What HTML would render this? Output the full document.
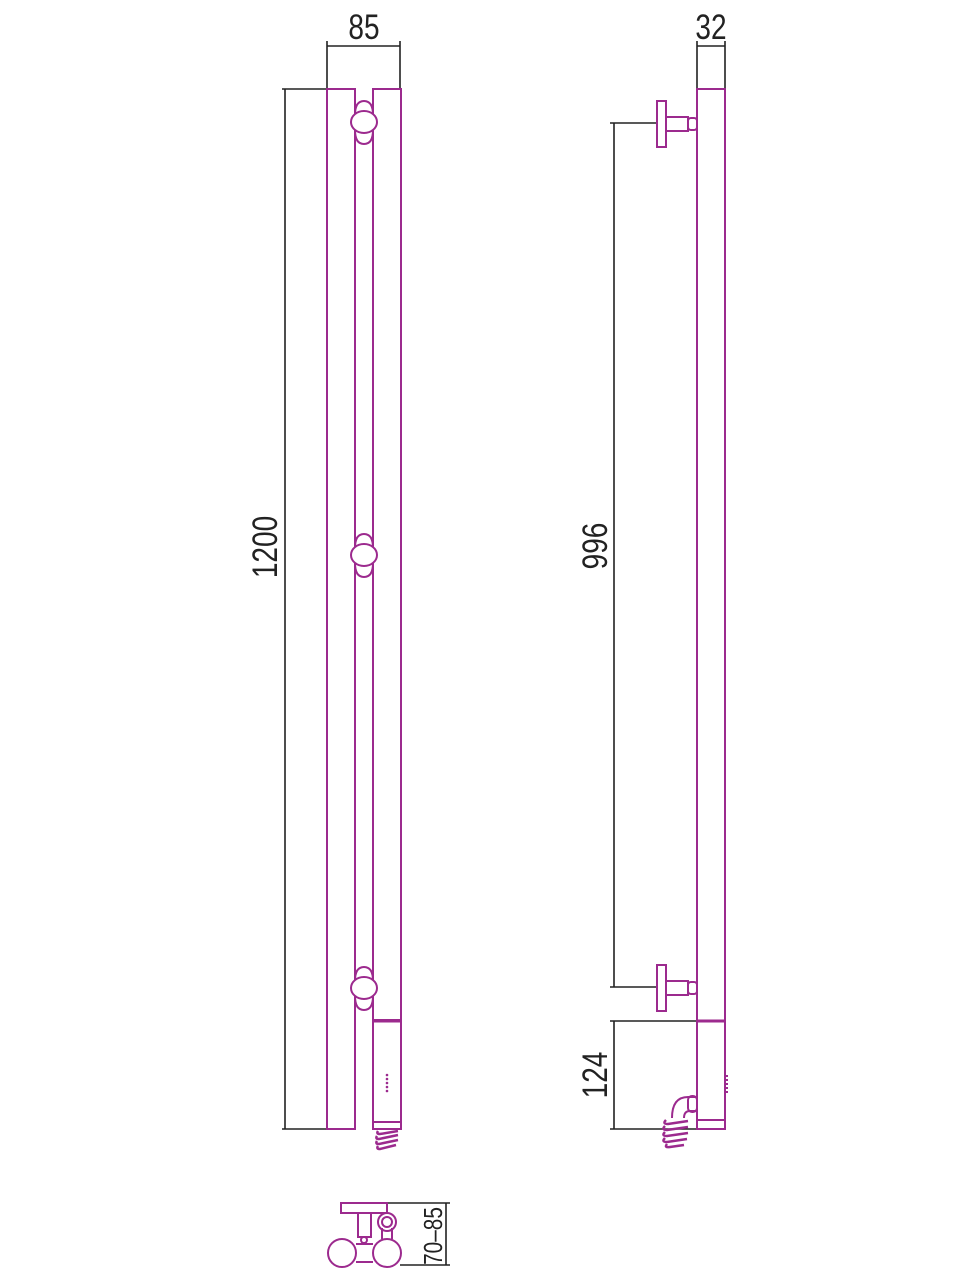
<!DOCTYPE html>
<html><head><meta charset="utf-8"><style>
html,body{margin:0;padding:0;background:#fff;}
svg{display:block}
text{font-family:"Liberation Sans",sans-serif;fill:#222;}
</style></head><body>
<svg width="979" height="1280" viewBox="0 0 979 1280" xmlns="http://www.w3.org/2000/svg">
<g stroke="#222" stroke-width="1.6" fill="none">
 <line x1="327" y1="41" x2="327" y2="89"/><line x1="400" y1="41" x2="400" y2="89"/>
 <line x1="327" y1="46" x2="400" y2="46"/>
 <line x1="282" y1="89" x2="327" y2="89"/><line x1="282" y1="1129" x2="327" y2="1129"/>
 <line x1="285" y1="89" x2="285" y2="1129"/>
 <line x1="697" y1="41" x2="697" y2="89"/><line x1="725" y1="41" x2="725" y2="89"/>
 <line x1="697" y1="46" x2="725" y2="46"/>
 <line x1="610" y1="123" x2="657" y2="123"/><line x1="610" y1="987" x2="657" y2="987"/>
 <line x1="614" y1="123" x2="614" y2="987"/>
 <line x1="610" y1="1021" x2="697" y2="1021"/><line x1="610" y1="1129" x2="697" y2="1129"/>
 <line x1="614" y1="1021" x2="614" y2="1129"/>
 <line x1="387" y1="1203" x2="450" y2="1203"/><line x1="400" y1="1265" x2="450" y2="1265"/>
 <line x1="446" y1="1203" x2="446" y2="1265"/>
</g>
<g font-size="35">
 <text x="364" y="39" text-anchor="middle" transform="translate(364 0) scale(0.8 1) translate(-364 0)">85</text>
 <text x="711" y="39" text-anchor="middle" transform="translate(711 0) scale(0.8 1) translate(-711 0)">32</text>
 <text transform="translate(277 547) rotate(-90) scale(0.8 1)" text-anchor="middle">1200</text>
 <text transform="translate(607 546) rotate(-90) scale(0.8 1)" text-anchor="middle">996</text>
 <text transform="translate(607 1075) rotate(-90) scale(0.8 1)" text-anchor="middle">124</text>
 <text transform="translate(442 1236) rotate(-90) scale(0.8 1)" text-anchor="middle" font-size="26">70–85</text>
</g>
<g stroke="#9c2a8e" stroke-width="2" fill="none">
 <rect x="327" y="89" width="28" height="1040" fill="#fff"/>
 <polyline points="373,1020 373,89 401,89 401,1020"/>
 <line x1="355" y1="89" x2="355" y2="1129"/>
 <g fill="#fff">
  <path d="M355 115 Q355 101 364 101 Q373 101 373 115 Z M355 130 Q355 144 364 144 Q373 144 373 130 Z"/>
  <ellipse cx="364" cy="122" rx="13" ry="11"/>
  <path d="M355 548 Q355 534 364 534 Q373 534 373 548 Z M355 563 Q355 577 364 577 Q373 577 373 563 Z"/>
  <ellipse cx="364" cy="555" rx="13" ry="11"/>
  <path d="M355 981 Q355 967 364 967 Q373 967 373 981 Z M355 996 Q355 1010 364 1010 Q373 1010 373 996 Z"/>
  <ellipse cx="364" cy="988" rx="13" ry="11"/>
 </g>
 <rect x="373" y="1020" width="28" height="109" fill="#fff"/>
 <line x1="373" y1="1021" x2="401" y2="1021" stroke-width="3"/>
 <line x1="373" y1="1122" x2="401" y2="1122"/>
 <g stroke-width="2.5">
  <path d="M378 1131 Q376 1134 380 1134 L398 1131"/>
  <path d="M377 1136 Q375 1139 379 1139 L398 1135"/>
  <path d="M377 1141 Q375 1144 379 1144 L398 1140"/>
  <path d="M378 1146 Q376 1149 380 1149 L396 1145"/>
 </g>
 <g fill="#9c2a8e" stroke="none">
  <circle cx="387" cy="1075" r="1.3"/><circle cx="387" cy="1079" r="1.3"/><circle cx="387" cy="1083" r="1.3"/><circle cx="387" cy="1087" r="1.3"/><circle cx="387" cy="1091" r="1.3"/>
 </g>
 <rect x="697" y="89" width="28" height="1040" fill="#fff"/>
 <line x1="697" y1="1021" x2="725" y2="1021" stroke-width="3"/>
 <line x1="697" y1="1120" x2="725" y2="1120"/>
 <g fill="#fff">
  <rect x="657" y="101" width="9" height="46"/>
  <rect x="666" y="117" width="22" height="14"/>
  <rect x="688" y="118" width="9" height="12" rx="3"/>
  <rect x="657" y="965" width="9" height="46"/>
  <rect x="666" y="981" width="22" height="14"/>
  <rect x="688" y="982" width="9" height="12" rx="3"/>
 </g>
 <path d="M697 1097 L688 1097 Q672 1097 672 1118 M697 1111 L690 1111 Q684 1111 684 1118" />
 <rect x="688" y="1096" width="9" height="16" rx="4"/>
 <g stroke-width="2.5">
  <path d="M666 1120 Q662 1124 668 1124 L688 1121"/>
  <path d="M665 1126 Q661 1130 667 1130 L688 1127"/>
  <path d="M665 1132 Q661 1136 667 1136 L688 1133"/>
  <path d="M665 1138 Q661 1142 667 1142 L687 1139"/>
  <path d="M667 1144 Q664 1148 670 1147 L684 1145"/>
 </g>
 <line x1="727" y1="1075" x2="727" y2="1095" stroke-dasharray="2 2"/>
 <rect x="341" y="1203" width="46" height="10" fill="#fff"/>
 <rect x="358" y="1213" width="13" height="24" fill="#fff"/>
 <circle cx="364" cy="1240" r="3"/>
 <circle cx="342" cy="1253" r="14" fill="#fff"/>
 <circle cx="387" cy="1253" r="14" fill="#fff"/>
 <path d="M356 1244 L373 1244 M356 1262 L373 1262"/>
 <circle cx="387" cy="1222" r="9" fill="#fff"/>
 <circle cx="387" cy="1222" r="5"/>
 <path d="M382 1239 L382 1228 M392 1239 L392 1228"/>
</g>
</svg>
</body></html>
